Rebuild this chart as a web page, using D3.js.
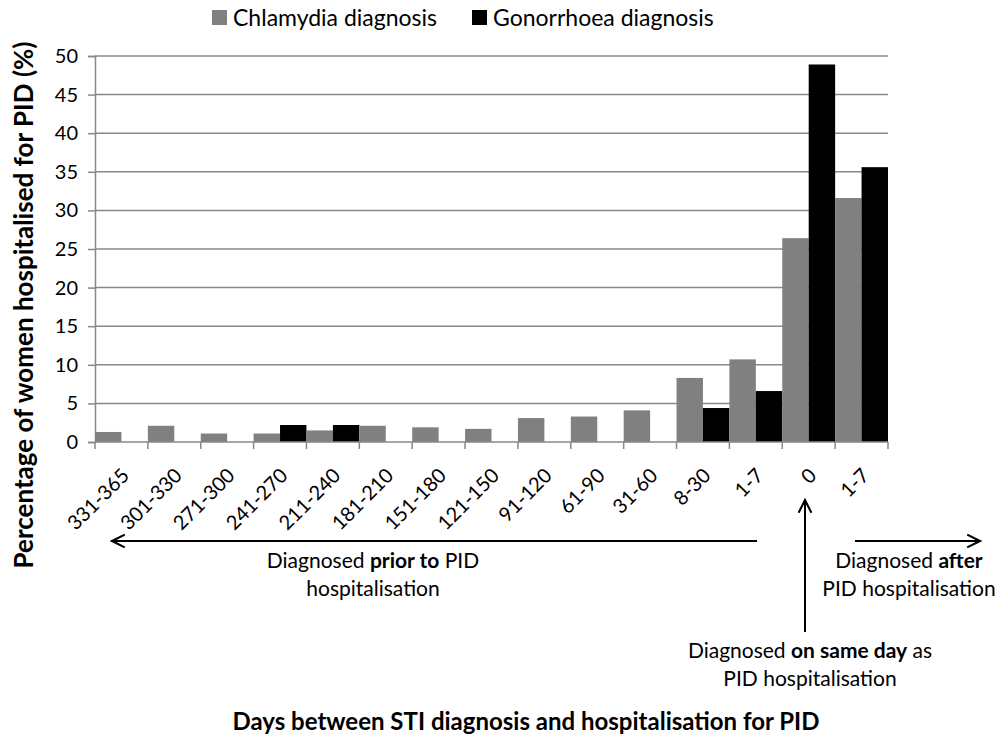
<!DOCTYPE html>
<html>
<head>
<meta charset="utf-8">
<script src="https://cdn.jsdelivr.net/npm/d3@7"></script>
<style>
  body { margin: 0; background: #fff; }
  text { font-family: Lato, "Open Sans", sans-serif; fill: #000; }
</style>
</head>
<body>
<div id="chart-area"></div>
<script>
const width = 998;
const height = 743;

// data
const categories = ["331-365", "301-330", "271-300", "241-270", "211-240", "181-210",
    "151-180", "121-150", "91-120", "61-90", "31-60", "8-30", "1-7", "0", "1-7 "];
const chlamydia = [1.3, 2.1, 1.1, 1.1, 1.5, 2.1, 1.9, 1.7, 3.1, 3.3, 4.1, 8.3, 10.7, 26.4, 31.6];
const gonorrhoea = [0, 0, 0, 2.2, 2.2, 0, 0, 0, 0, 0, 0, 4.4, 6.6, 48.9, 35.6];
const yTicks = [0, 5, 10, 15, 20, 25, 30, 35, 40, 45, 50];
const seriesNames = ["Chlamydia diagnosis", "Gonorrhoea diagnosis"];
const colors = ["#808080", "#000000"];

const margin = {left: 95, right: 110, top: 56, bottom: 301};

const svg = d3.select("#chart-area")
    .append("svg")
    .attr("width", width)
    .attr("height", height);

const x = d3.scaleBand()
    .domain(d3.range(categories.length))
    .range([margin.left, width - margin.right])
    .padding(0);

const x1 = d3.scaleBand()
    .domain([0, 1])
    .range([0, x.bandwidth()]);

const y = d3.scaleLinear()
    .domain([0, 50])
    .range([height - margin.bottom, margin.top]);

// gridlines + y axis
svg.append("g")
    .attr("transform", `translate(${margin.left},0)`)
    .call(d3.axisLeft(y).tickValues(yTicks).tickSize(7).tickPadding(10))
    .call(g => g.select(".domain").attr("stroke", "#888").attr("stroke-width", 1.5))
    .call(g => g.selectAll(".tick line").attr("stroke", "#888").attr("stroke-width", 1.5))
    .call(g => g.selectAll(".tick text").style("font-size", "20px").attr("font-family", "Lato"));

svg.append("g")
    .selectAll("line")
    .data(yTicks.filter(d => d > 0))
    .join("line")
    .attr("x1", margin.left)
    .attr("x2", width - margin.right)
    .attr("y1", d => y(d))
    .attr("y2", d => y(d))
    .attr("stroke", "#888")
    .attr("stroke-width", 1.5);

// bars
const groups = svg.append("g")
    .selectAll("g")
    .data(categories.map((c, i) => ({i, vals: [chlamydia[i], gonorrhoea[i]]})))
    .join("g")
    .attr("transform", d => `translate(${x(d.i)},0)`);

groups.selectAll("rect")
    .data(d => d.vals.map((v, k) => ({k, v})))
    .join("rect")
    .attr("x", d => x1(d.k))
    .attr("width", x1.bandwidth())
    .attr("y", d => y(d.v))
    .attr("height", d => y(0) - y(d.v))
    .attr("fill", d => colors[d.k]);

// x axis with ticks at band edges
const y0 = y(0);
svg.append("line")
    .attr("x1", margin.left).attr("x2", width - margin.right)
    .attr("y1", y0).attr("y2", y0)
    .attr("stroke", "#888").attr("stroke-width", 1.5);

svg.append("g")
    .selectAll("line")
    .data(d3.range(categories.length + 1))
    .join("line")
    .attr("x1", d => margin.left + d * x.step())
    .attr("x2", d => margin.left + d * x.step())
    .attr("y1", y0).attr("y2", y0 + 7)
    .attr("stroke", "#888").attr("stroke-width", 1.5);

svg.append("g")
    .selectAll("text")
    .data(categories)
    .join("text")
    .attr("transform", (d, i) => `translate(${x(i) + x.bandwidth() / 2 - 1},${y0 + 25}) rotate(-45)`)
    .attr("text-anchor", "end")
    .attr("dy", "0.7em")
    .style("font-size", "20px")
    .text(d => d.trim());

// legend
const legend = svg.append("g");
const legendX = [212, 472];
seriesNames.forEach((n, k) => {
    legend.append("rect")
        .attr("x", legendX[k]).attr("y", 10)
        .attr("width", 15).attr("height", 15)
        .attr("fill", colors[k]);
    legend.append("text")
        .attr("x", legendX[k] + 21).attr("y", 26)
        .style("font-size", "23px")
        .text(n);
});

// axis titles
svg.append("text")
    .attr("transform", `translate(33,305) rotate(-90)`)
    .attr("text-anchor", "middle")
    .style("font-size", "26px")
    .style("font-weight", "bold")
    .text("Percentage of women hospitalised for PID (%)");

svg.append("text")
    .attr("x", 526).attr("y", 730)
    .attr("text-anchor", "middle")
    .style("font-size", "24px")
    .style("font-weight", "bold")
    .text("Days between STI diagnosis and hospitalisation for PID");

// annotations
const defs = svg.append("defs");
defs.append("marker")
    .attr("id", "arrow")
    .attr("viewBox", "0 0 10 10")
    .attr("refX", 9).attr("refY", 5)
    .attr("markerWidth", 8).attr("markerHeight", 8)
    .attr("orient", "auto")
    .append("path")
    .attr("d", "M1,1 L9,5 L1,9")
    .attr("fill", "none")
    .attr("stroke", "#000")
    .attr("stroke-width", 1.3);

function arrow(x1, y1, x2, y2) {
    svg.append("line")
        .attr("x1", x1).attr("y1", y1).attr("x2", x2).attr("y2", y2)
        .attr("stroke", "#000").attr("stroke-width", 2)
        .attr("marker-end", "url(#arrow)");
}
arrow(757, 541, 112, 541);
arrow(805, 632, 805, 500);
arrow(855, 541, 980, 541);

function note(cx, cy, lines) {
    const t = svg.append("text")
        .attr("text-anchor", "middle")
        .style("font-size", "21px");
    lines.forEach((parts, li) => {
        const ln = t.append("tspan").attr("x", cx).attr("y", cy + li * 28);
        parts.forEach(p => {
            ln.append("tspan").style("font-weight", p[1] ? "bold" : "normal").text(p[0]);
        });
    });
}
note(373, 568, [[["Diagnosed ", 0], ["prior to", 1], [" PID", 0]], [["hospitalisation", 0]]]);
note(909, 568, [[["Diagnosed ", 0], ["after", 1]], [["PID hospitalisation", 0]]]);
note(810, 658, [[["Diagnosed ", 0], ["on same day", 1], [" as", 0]], [["PID hospitalisation", 0]]]);
</script>
</body>
</html>
